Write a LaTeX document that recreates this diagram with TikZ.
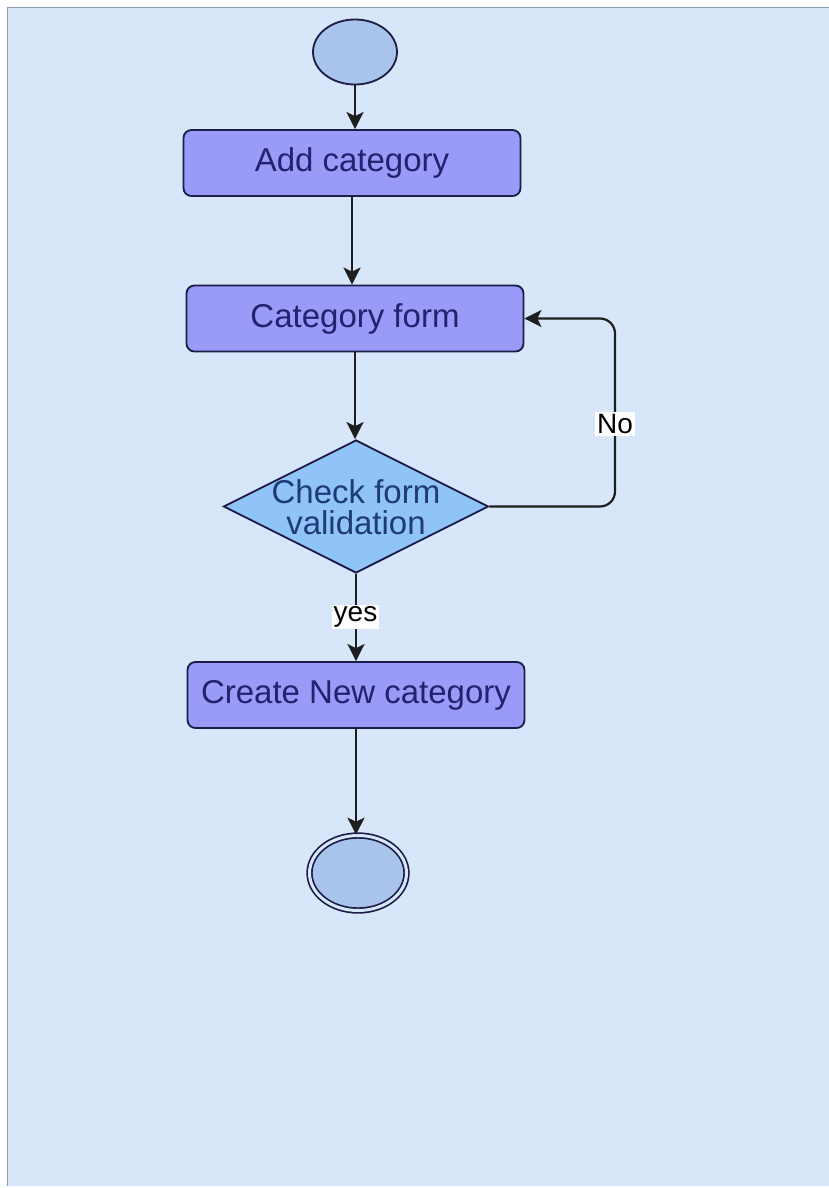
\documentclass[tikz,border=0pt]{standalone}
\usepackage{fontspec}
\setmainfont{Liberation Sans}
\usetikzlibrary{shapes.geometric,arrows.meta}
\definecolor{panel}{HTML}{D7E6F8}
\definecolor{panelline}{HTML}{8A9AB4}
\definecolor{boxfill}{HTML}{9A9AF8}
\definecolor{boxline}{HTML}{1C1C48}
\definecolor{boxtext}{HTML}{22226E}
\definecolor{decfill}{HTML}{90C4F6}
\definecolor{dectext}{HTML}{1F3A78}
\definecolor{circfill}{HTML}{A9C4EB}
\definecolor{flowcol}{HTML}{1E1E1E}
\tikzset{
  actbox/.style={draw=boxline, line width=1.8pt, fill=boxfill, rounded corners=8pt,
    minimum width=337pt, minimum height=66pt, inner sep=0pt, text=boxtext,
    font=\fontsize{33}{33}\selectfont},
  decision/.style={diamond, draw=boxline, line width=1.8pt, fill=decfill,
    minimum width=265pt, minimum height=133pt, inner sep=0pt},
  dectxt/.style={align=center, text=dectext, font=\fontsize{33}{31}\selectfont, inner sep=0pt},
  startnode/.style={ellipse, draw=boxline, line width=1.8pt, fill=circfill,
    minimum width=84pt, minimum height=65pt, inner sep=0pt},
  endnode/.style={ellipse, draw=boxline, line width=1.7pt, double=panel, double distance=3pt,
    fill=circfill, minimum width=97pt, minimum height=75pt, inner sep=0pt},
  flow/.style={draw=flowcol, line width=2.2pt, -{Stealth[length=17pt, width=17pt, inset=4pt]}},
  lbl/.style={fill=white, text=black, inner sep=2pt, font=\fontsize{28}{28}\selectfont}
}
\begin{document}
\begin{tikzpicture}[x=1pt, y=-1pt]
\useasboundingbox (0,0) rectangle (829,1188);
\fill[white] (0,0) rectangle (829,1188);
\fill[panel] (7,7) rectangle (829,1186);
\draw[panelline, line width=1.5pt] (7.5,1186) -- (7.5,7.5) -- (829,7.5);

\node[startnode] (start) at (355,52) {};
\node[actbox] (add) at (352,163) {Add category};
\node[actbox] (form) at (355,318.5) {Category form};
\node[decision] (chk) at (356,506.5) {};
\node[dectxt] (chktext) at (356,507) {Check form\\validation};
\node[actbox] (create) at (356,695) {Create New category};
\node[endnode] (end) at (358,873) {};

\coordinate (nocorner) at (615,506.5);

\draw[flow] (start.south) -- (start.south |- add.north);
\draw[flow] (add.south) -- (add.south |- form.north);
\draw[flow] (form.south) -- (form.south |- chk.north);
\draw[flow, rounded corners=15pt] (chk.east) -- (nocorner) |- (form.east);
\node[lbl] (nolbl) at (615,424) {No};
\draw[flow] (chk.south) -- (chk.south |- create.north);
\node[lbl] (yeslbl) at (355.5,617) {yes};
\draw[flow] (create.south) -- (create.south |- end.north);
\end{tikzpicture}
\end{document}
